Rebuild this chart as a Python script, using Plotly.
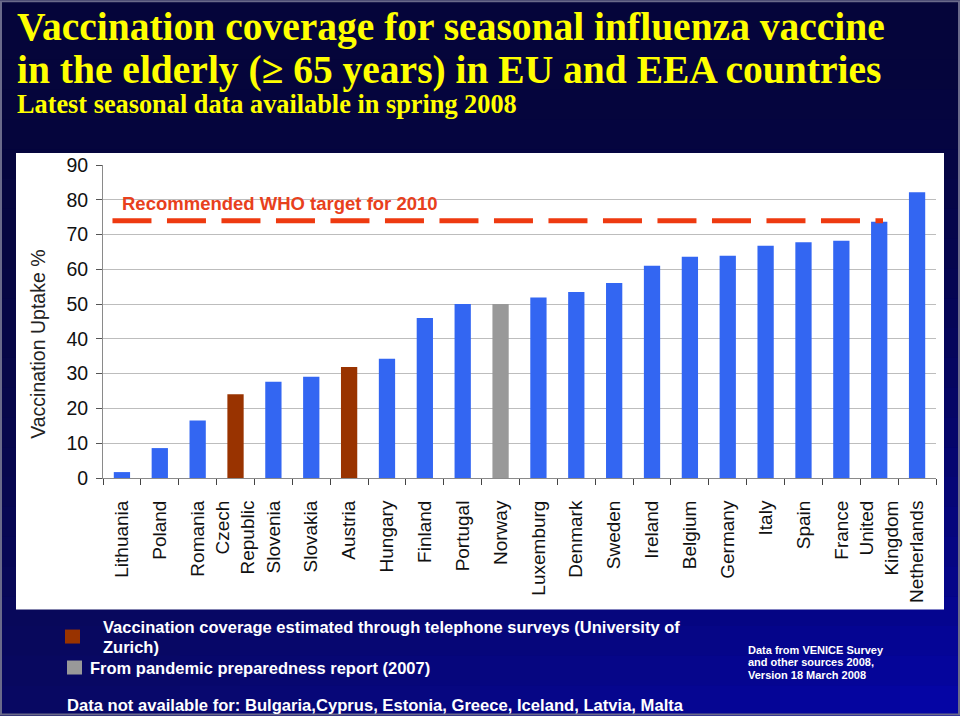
import plotly.graph_objects as go

# ---------------- data ----------------
countries = ["Lithuania", "Poland", "Romania", "Czech<br>Republic", "Slovenia", "Slovakia",
             "Austria", "Hungary", "Finland", "Portugal", "Norway", "Luxemburg", "Denmark",
             "Sweden", "Ireland", "Belgium", "Germany", "Italy", "Spain", "France",
             "United<br>Kingdom", "Netherlands"]
uptake = [1.7, 8.6, 16.5, 24.1, 27.7, 29.1, 31.9, 34.3, 46.0, 50.0, 50.0, 51.9, 53.5,
          56.1, 61.0, 63.6, 63.9, 66.8, 67.8, 68.2, 73.7, 82.2]
source = ["venice", "venice", "venice", "phone", "venice", "venice", "phone", "venice",
          "venice", "venice", "pandemic", "venice", "venice", "venice", "venice", "venice",
          "venice", "venice", "venice", "venice", "venice", "venice"]
y_ticks = [0, 10, 20, 30, 40, 50, 60, 70, 80, 90]
who_target = 74.0
target_span = [-0.25, 20.1]   # category-index extent of the dashed target line

source_colors = {"venice": "#3366f2", "phone": "#993300", "pandemic": "#999999"}

W, H = 960, 716
L, R, T, B = 103, 936, 165, 478.3


def px(x):
    return (x - L) / (R - L)


def py(y):
    return (B - y) / (B - T)


fig = go.Figure()
fig.add_trace(go.Bar(
    x=countries, y=uptake,
    marker=dict(color=[source_colors[s] for s in source], line=dict(width=0)),
    width=0.43, hoverinfo="x+y",
))

shapes = []
# gradient background (slide)
nx, ny = 16, 24
for i in range(nx):
    for j in range(ny):
        x0, x1 = W * i / nx, W * (i + 1) / nx
        y0, y1 = H * j / ny, H * (j + 1) / ny
        fx = (i + 0.5) / nx
        fy = (j + 0.5) / ny
        b = 58 + 112 * (fy ** 1.6) * (0.35 + 0.65 * fx)
        r = 5 + 4 * fy * (1 - fx)
        col = "rgb(%d,%d,%d)" % (r, r, b)
        shapes.append(dict(type="rect", xref="paper", yref="paper", layer="below",
                           x0=px(x0), x1=px(x1 + 0.5), y0=py(y1 + 0.5), y1=py(y0),
                           fillcolor=col, line=dict(width=0)))
# frame
shapes.append(dict(type="rect", xref="paper", yref="paper", layer="below",
                   x0=px(1), x1=px(959), y0=py(715), y1=py(1),
                   fillcolor="rgba(0,0,0,0)", line=dict(color="#6a6a8a", width=2)))
# white chart panel
shapes.append(dict(type="rect", xref="paper", yref="paper", layer="below",
                   x0=px(16), x1=px(944), y0=py(610), y1=py(153),
                   fillcolor="white", line=dict(width=0)))
# WHO target dashed line
shapes.append(dict(type="line", xref="x", yref="y", layer="above",
                   x0=target_span[0], x1=target_span[1], y0=who_target, y1=who_target,
                   line=dict(color="#ee3a10", width=5, dash="39px,15.5px")))
# legend squares
shapes.append(dict(type="rect", xref="paper", yref="paper",
                   x0=px(65), x1=px(80), y0=py(644), y1=py(630),
                   fillcolor=source_colors["phone"], line=dict(width=0)))
shapes.append(dict(type="rect", xref="paper", yref="paper",
                   x0=px(67), x1=px(82), y0=py(675), y1=py(661),
                   fillcolor=source_colors["pandemic"], line=dict(width=0)))

ann = []
serif = "Liberation Serif, Times New Roman, serif"
sans = "Liberation Sans, Arial, sans-serif"


def text(x, y, s, size, color, family=sans, xanchor="left", angle=0):
    ann.append(dict(xref="paper", yref="paper", x=px(x), y=py(y), text=s, showarrow=False,
                    xanchor=xanchor, yanchor="middle", textangle=angle,
                    font=dict(size=size, color=color, family=family)))


text(15, 27, "<b>Vaccination coverage for seasonal influenza vaccine</b>", 39.5, "#ffff00", serif)
text(15, 70, "<b>in the elderly (≥ 65 years) in EU and EEA countries</b>", 39.5, "#ffff00", serif)
text(15, 104, "<b>Latest seasonal data available in spring 2008</b>", 26.3, "#ffff00", serif)
text(120, 204, "<b>Recommended WHO target for 2010</b>", 18.5, "#e8401c")
text(38, 345, "Vaccination Uptake %", 19.5, "#222222", angle=-90, xanchor="center")
text(101, 627, "<b>Vaccination coverage estimated through telephone surveys (University of</b>", 16.5, "white")
text(101, 647, "<b>Zurich)</b>", 16.5, "white")
text(88, 668, "<b>From pandemic preparedness report (2007)</b>", 16.5, "white")
text(65, 706, "<b>Data not available for: Bulgaria,Cyprus, Estonia, Greece, Iceland, Latvia, Malta</b>", 16.6, "white")
text(746, 650, "<b>Data from VENICE Survey</b>", 11, "white")
text(746, 662, "<b>and other sources 2008,</b>", 11, "white")
text(746, 675, "<b>Version 18 March 2008</b>", 11, "white")

fig.update_layout(
    width=W, height=H,
    margin=dict(l=L, r=W - R, t=T, b=H - B, pad=0),
    paper_bgcolor="#000040", plot_bgcolor="rgba(0,0,0,0)",
    showlegend=False, bargap=0.57,
    shapes=shapes, annotations=ann,
    font=dict(family=sans, color="#111111"),
    xaxis=dict(
        type="category", range=[-0.5, len(countries) - 0.5], automargin=False,
        tickangle=-90, tickfont=dict(size=19, color="#111111"),
        ticks="outside", tickson="boundaries", ticklen=6, tickcolor="#444444",
        showline=True, linecolor="#8a8a8a", linewidth=1, showgrid=False,
        ticklabelstandoff=14,
    ),
    yaxis=dict(
        range=[0, 90], tickvals=y_ticks, automargin=False,
        tickfont=dict(size=19.5, color="#111111"),
        ticks="outside", ticklen=6, tickcolor="#555555",
        showline=True, linecolor="#8a8a8a", linewidth=1,
        showgrid=True, gridcolor="#bdbdbd", gridwidth=1, zeroline=False,
        ticklabelstandoff=4,
    ),
)

fig.write_html("out.html", config={"displayModeBar": False},
               post_script="document.body.style.margin='0';document.body.style.overflow='hidden';")
